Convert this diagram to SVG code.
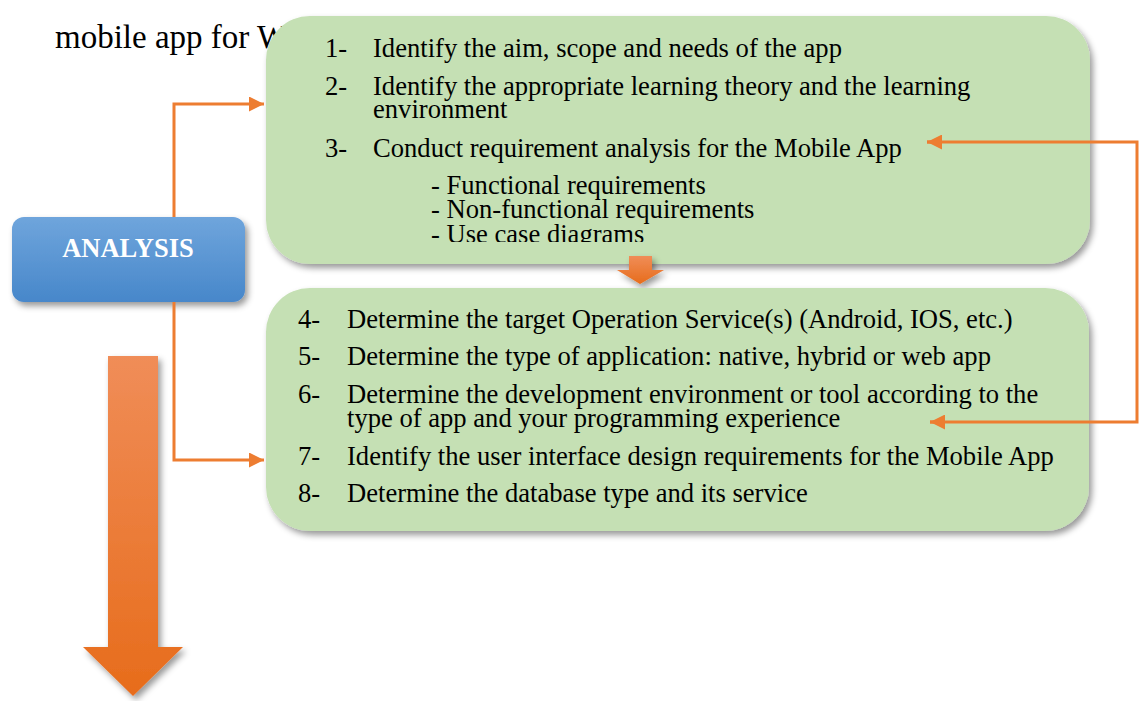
<svg xmlns="http://www.w3.org/2000/svg" width="1142" height="701" viewBox="0 0 1142 701">
  <style>
    .body { font-family: "Liberation Serif", "Times New Roman", serif; font-size: 26.6px; fill: #000; }
    .lead { font-family: "Liberation Serif", "Times New Roman", serif; font-size: 33px; fill: #000; }
    .title { font-family: "Liberation Serif", "Times New Roman", serif; font-size: 26.5px; font-weight: bold; fill: #fff; }
    .panel { fill: #c5e0b4; }
    .link { fill: none; stroke: #ed7d31; stroke-width: 3; }
  </style>
  <defs>
    <filter id="shadow" x="-10%" y="-10%" width="125%" height="130%">
      <feDropShadow dx="3" dy="4" stdDeviation="3" flood-color="#000" flood-opacity="0.4"/>
    </filter>
    <linearGradient id="blueFill" x1="0" y1="0" x2="0" y2="1">
      <stop offset="0" stop-color="#6fa5dc"/>
      <stop offset="1" stop-color="#4787ca"/>
    </linearGradient>
    <linearGradient id="orangeFill" x1="0" y1="0" x2="0" y2="1">
      <stop offset="0" stop-color="#f08d58"/>
      <stop offset="1" stop-color="#e76c1b"/>
    </linearGradient>
    <marker id="arrow" viewBox="0 0 10 10" refX="10" refY="5" markerWidth="5" markerHeight="5" orient="auto" markerUnits="strokeWidth">
      <path d="M0,0 L10,5 L0,10 Z" fill="#ed7d31"/>
    </marker>
    <clipPath id="topClip">
      <rect x="266" y="16" width="824" height="226"/>
    </clipPath>
  </defs>

  <!-- running paragraph text behind the panels -->
  <text class="lead" x="55" y="48">mobile app for W</text>

  <!-- big downward flow arrow -->
  <g id="flow-arrow">
    <path d="M108,356 H158 V647 H183 L133,696 L83,647 H108 Z" fill="url(#orangeFill)" filter="url(#shadow)"/>
  </g>

  <!-- phase label -->
  <g id="analysis">
    <rect x="12" y="217" width="233" height="85" rx="12" fill="url(#blueFill)" filter="url(#shadow)"/>
    <text class="title" x="128" y="257" text-anchor="middle">ANALYSIS</text>
  </g>

  <!-- first step panel -->
  <g id="panel-top">
    <rect class="panel" x="266" y="16" width="824" height="248" rx="44" filter="url(#shadow)"/>
    <g clip-path="url(#topClip)">
      <text class="body" x="325" y="57">1-</text>
      <text class="body" x="373" y="57">Identify the aim, scope and needs of the app</text>
      <text class="body" x="325" y="95">2-</text>
      <text class="body" x="373" y="95">Identify the appropriate learning theory and the learning</text>
      <text class="body" x="373" y="118">environment</text>
      <text class="body" x="325" y="157">3-</text>
      <text class="body" x="373" y="157">Conduct requirement analysis for the Mobile App</text>
      <text class="body" x="431" y="194">- Functional requirements</text>
      <text class="body" x="431" y="218">- Non-functional requirements</text>
      <text class="body" x="431" y="243">- Use case diagrams</text>
    </g>
  </g>

  <!-- small arrow between panels -->
  <g id="step-arrow">
    <path d="M629,256 H652 V270 H664 L640,284 L617,270 H629 Z" fill="url(#orangeFill)" filter="url(#shadow)"/>
  </g>

  <!-- second step panel -->
  <g id="panel-bottom">
    <rect class="panel" x="266" y="288" width="823" height="243" rx="44" filter="url(#shadow)"/>
    <text class="body" x="298" y="328">4-</text>
    <text class="body" x="347" y="328">Determine the target Operation Service(s) (Android, IOS, etc.)</text>
    <text class="body" x="298" y="365">5-</text>
    <text class="body" x="347" y="365">Determine the type of application: native, hybrid or web app</text>
    <text class="body" x="298" y="403">6-</text>
    <text class="body" x="347" y="403">Determine the development environment or tool according to the</text>
    <text class="body" x="347" y="427">type of app and your programming experience</text>
    <text class="body" x="298" y="465">7-</text>
    <text class="body" x="347" y="465">Identify the user interface design requirements for the Mobile App</text>
    <text class="body" x="298" y="502">8-</text>
    <text class="body" x="347" y="502">Determine the database type and its service</text>
  </g>

  <!-- connectors, drawn over the panels -->
  <g id="connectors">
    <path class="link" d="M174,217 V104 H264" marker-end="url(#arrow)"/>
    <path class="link" d="M174,302 V460 H264" marker-end="url(#arrow)"/>
    <path class="link" d="M927,142 H1137 V422 H930"/>
    <path class="link" d="M940,142 H927" marker-end="url(#arrow)"/>
    <path class="link" d="M943,422 H930" marker-end="url(#arrow)"/>
  </g>
</svg>
